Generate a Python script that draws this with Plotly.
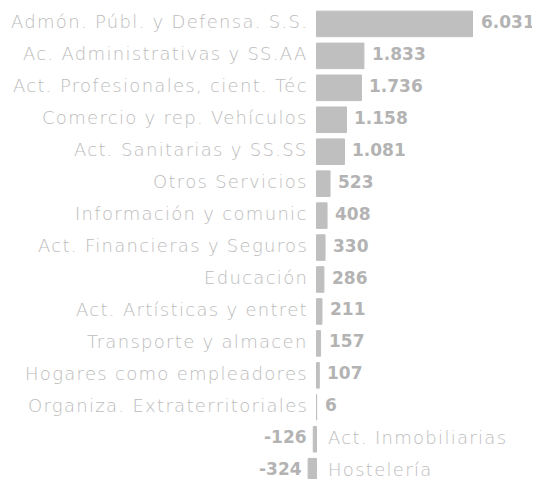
import plotly.graph_objects as go

categories = [
    "Admón. Públ. y Defensa. S.S.",
    "Ac. Administrativas y SS.AA",
    "Act. Profesionales, cient. Téc",
    "Comercio y rep. Vehículos",
    "Act. Sanitarias y SS.SS",
    "Otros Servicios",
    "Información y comunic",
    "Act. Financieras y Seguros",
    "Educación",
    "Act. Artísticas y entret",
    "Transporte y almacen",
    "Hogares como empleadores",
    "Organiza. Extraterritoriales",
    "Act. Inmobiliarias",
    "Hostelería",
]
values = [6031, 1833, 1736, 1158, 1081, 523, 408, 330, 286, 211, 157, 107, 6, -126, -324]
value_labels = ["6.031", "1.833", "1.736", "1.158", "1.081", "523", "408", "330", "286",
                "211", "157", "107", "6", "-126", "-324"]

BAR = "#bfbfbf"
LABEL = "#bcbcbc"
VALUE = "#b3b3b3"
FONT = "DejaVu Sans"


def spaced(t, px):
    return '<span style="letter-spacing:%spx">%s</span>' % (px, t)


ypos = list(range(len(categories)))

fig = go.Figure()
fig.add_trace(go.Bar(
    x=values, y=ypos, orientation="h",
    marker=dict(color=BAR, line=dict(color=BAR, width=1)),
    width=0.8, hoverinfo="skip",
))

lab_font = dict(family=FONT, size=18, color=LABEL, weight=200)
val_font = dict(family=FONT, size=17, color=VALUE, weight="bold")

annotations = []
for i, (cat, v, lab) in enumerate(zip(categories, values, value_labels)):
    if v >= 0:
        annotations.append(dict(x=0, y=i, text=spaced(cat, 1.3), xanchor="right", xshift=-8,
                                yshift=2, showarrow=False, borderpad=0, font=lab_font))
        annotations.append(dict(x=v, y=i, text=lab, xanchor="left", xshift=7,
                                yshift=2, showarrow=False, borderpad=0, font=val_font))
    else:
        annotations.append(dict(x=0, y=i, text=spaced(cat, 1.3), xanchor="left", xshift=10,
                                yshift=2, showarrow=False, borderpad=0, font=lab_font))
        annotations.append(dict(x=v, y=i, text=lab, xanchor="right", xshift=-5,
                                yshift=2, showarrow=False, borderpad=0, font=val_font))

# page body has an 8px default margin, so the figure is 532x471 drawn at (8, 8)
fig.update_layout(
    width=532, height=471,
    margin=dict(l=0, r=0, t=0, b=0),
    paper_bgcolor="white", plot_bgcolor="white",
    showlegend=False,
    annotations=annotations,
    xaxis=dict(range=[-11925, 8639], visible=False, fixedrange=True),
    yaxis=dict(range=[14.244, -0.498], visible=False, fixedrange=True),
)

fig.write_html("out.html")
